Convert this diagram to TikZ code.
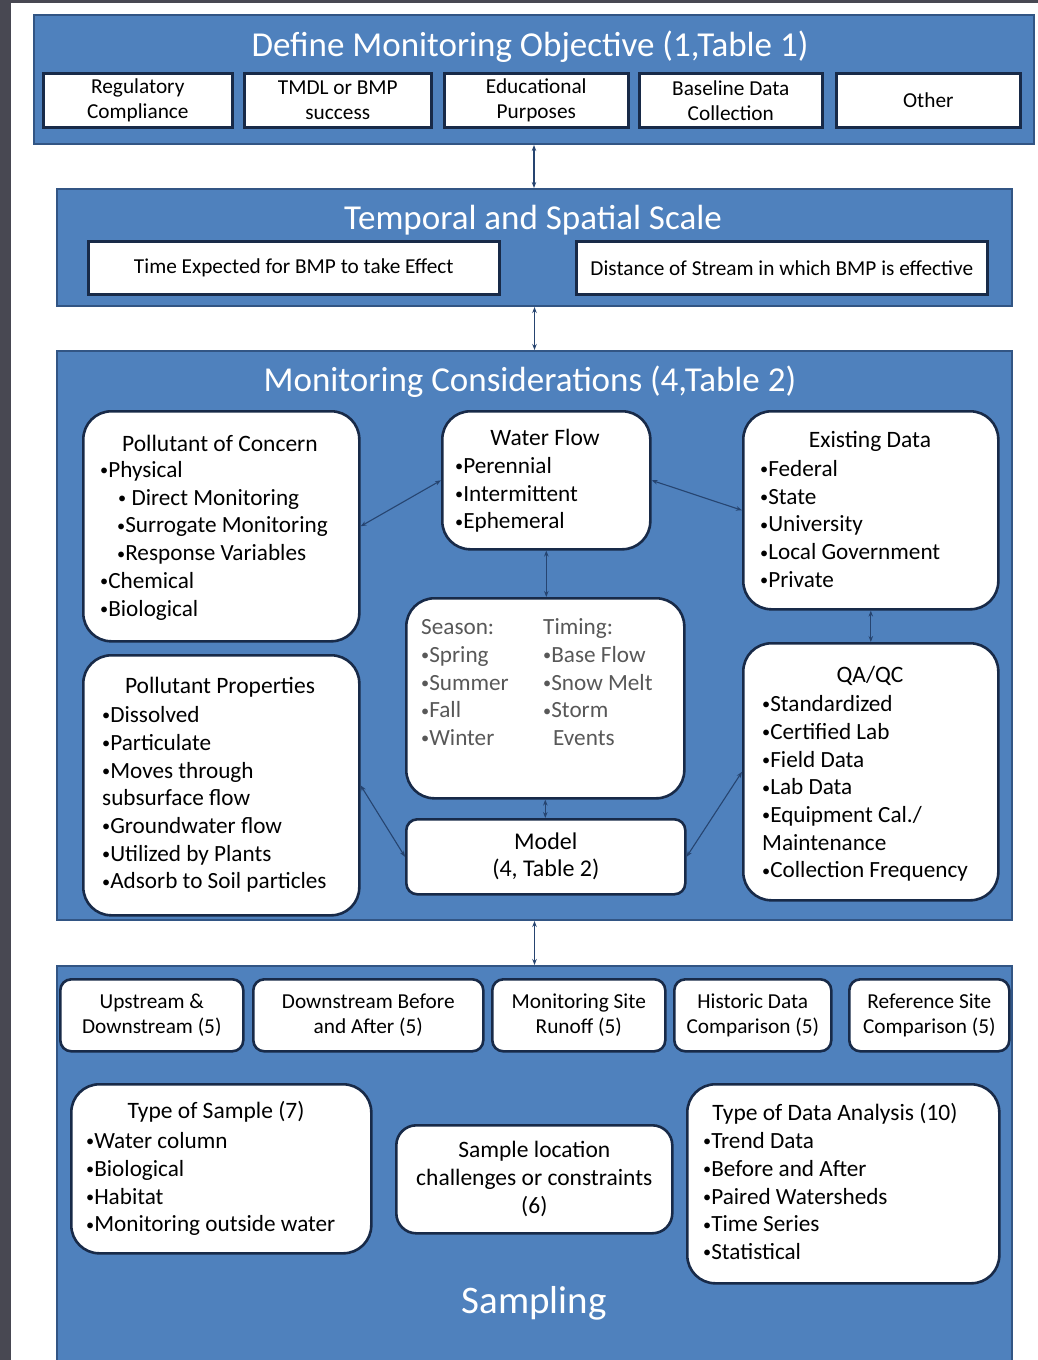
\documentclass[tikz,border=0pt]{standalone}
\usepackage{fontspec}
\usepackage{graphicx}
\setmainfont{Carlito}
\usetikzlibrary{arrows.meta}
\definecolor{bluefill}{RGB}{79,129,189}
\definecolor{blueedge}{RGB}{50,85,132}
\definecolor{navy}{RGB}{24,42,72}
\definecolor{arrowc}{RGB}{38,68,112}
\definecolor{stripc}{RGB}{72,72,82}
\definecolor{graytext}{RGB}{88,88,88}
\newcommand{\mybul}{\raisebox{0.15ex}{\scalebox{0.7}{•}}}
\begin{document}
\begin{tikzpicture}[x=1pt,y=-1pt,
  panel/.style={draw=blueedge, line width=2pt, fill=bluefill, anchor=north west, inner sep=0pt},
  sqbox/.style={draw=navy, line width=2.6pt, fill=white, anchor=north west, inner sep=0pt, align=center, font=\fontsize{21.3}{25}\selectfont},
  rbox/.style={sqbox, rounded corners=28pt},
  sbox/.style={sqbox, rounded corners=11pt},
  ptitle/.style={text=white, inner sep=0pt, font=\fontsize{35}{40}\selectfont},
  hd/.style={inner sep=0pt, font=\fontsize{23.5}{28}\selectfont},
  lst/.style={inner sep=0pt, anchor=north west, align=left, font=\fontsize{23.2}{27.7}\selectfont},
  glst/.style={lst, text=graytext},
  conn/.style={draw=arrowc, line width=1.1pt, {Stealth[length=6pt,width=4.5pt]}-{Stealth[length=6pt,width=4.5pt]}}
]
\useasboundingbox (0,0) rectangle (1038,1360);
\fill[white] (0,0) rectangle (1038,1360);
\fill[stripc] (0,0) rectangle (11,1360);
\fill[stripc] (0,0) rectangle (1038,3);

% ---------- Panel 1 ----------
\node[panel, minimum width=1000pt, minimum height=129pt] (b1) at (33,14) {};
\node[ptitle] (t1) at (530,47) {Define Monitoring Objective (1,Table 1)};
\node[sqbox, minimum width=189pt, minimum height=54pt] (o1) at (42,72) {Regulatory\\Compliance};
\node[sqbox, minimum width=187pt, minimum height=54pt] (o2) at (243,72) {TMDL or BMP\\success};
\node[sqbox, minimum width=184pt, minimum height=54pt] (o3) at (443,72) {Educational\\Purposes};
\node[sqbox, minimum width=183pt, minimum height=54pt] (o4) at (638,72) {Baseline Data\\Collection};
\node[sqbox, minimum width=184pt, minimum height=54pt] (o5) at (835,72) {Other};

% ---------- Panel 2 ----------
\node[panel, minimum width=955pt, minimum height=117pt] (b2) at (56,188) {};
\node[ptitle] (t2) at (533,220) {Temporal and Spatial Scale};
\node[sqbox, minimum width=411pt, minimum height=53pt] (s1) at (87,240) {Time Expected for BMP to take Effect};
\node[sqbox, minimum width=411pt, minimum height=53pt] (s2) at (575,240) {Distance of Stream in which BMP is effective};

% ---------- Panel 3 ----------
\node[panel, minimum width=955pt, minimum height=569pt] (b3) at (56,350) {};
\node[ptitle] (t3) at (530,382) {Monitoring Considerations (4,Table 2)};

\node[rbox, minimum width=276pt, minimum height=230pt] (poc) at (82,410) {};
\node[hd] (poct) at (220,443) {Pollutant of Concern};
\node[lst] (pocl) at (100,458) {\strut\mybul Physical\\\hspace{18pt}\mybul{} Direct Monitoring\\\hspace{17pt}\mybul Surrogate Monitoring\\\hspace{17pt}\mybul Response Variables\\\mybul Chemical\\\mybul Biological};

\node[rbox, minimum width=208pt, minimum height=138pt] (wf) at (441,410) {};
\node[hd] (wft) at (545,437) {Water Flow};
\node[lst] (wfl) at (455,454) {\strut\mybul Perennial\\\mybul Intermittent\\\mybul Ephemeral};

\node[rbox, minimum width=255pt, minimum height=198pt] (ed) at (742,410) {};
\node[hd] (edt) at (870,441) {Existing Data};
\node[lst] (edl) at (760,457) {\strut\mybul Federal\\\mybul State\\\mybul University\\\mybul Local Government\\\mybul Private};

\node[rbox, minimum width=278pt, minimum height=200pt] (sea) at (405,597) {};
\node[glst] (seal) at (421,615) {\strut Season:\\\mybul Spring\\\mybul Summer\\\mybul Fall\\\mybul Winter};
\node[glst] (timl) at (543,615) {\strut Timing:\\\mybul Base Flow\\\mybul Snow Melt\\\mybul Storm\\\hspace{10pt}Events};

\node[rbox, minimum width=276pt, minimum height=260pt] (pp) at (82,654) {};
\node[hd] (ppt) at (220,687) {Pollutant Properties};
\node[lst] (ppl) at (102,703) {\strut\mybul Dissolved\\\mybul Particulate\\\mybul Moves through\\subsurface flow\\\mybul Groundwater flow\\\mybul Utilized by Plants\\\mybul Adsorb to Soil particles};

\node[sbox, minimum width=279pt, minimum height=75pt, font=\fontsize{24}{27}\selectfont] (mod) at (405,818) {Model\\(4, Table 2)};

\node[rbox, minimum width=255pt, minimum height=257pt] (qa) at (742,642) {};
\node[hd] (qat) at (870,676) {QA/QC};
\node[lst] (qal) at (762,692) {\strut\mybul Standardized\\\mybul Certified Lab\\\mybul Field Data\\\mybul Lab Data\\\mybul Equipment Cal./\\Maintenance\\\mybul Collection Frequency};

% ---------- Panel 4 ----------
\node[panel, minimum width=955pt, minimum height=400pt] (b4) at (56,965) {};
\node[ptitle, font=\fontsize{39}{44}\selectfont] (t4) at (534,1303) {Sampling};

\node[sbox, minimum width=183pt, minimum height=72pt] (u1) at (59,978) {Upstream \&\\Downstream (5)};
\node[sbox, minimum width=230pt, minimum height=72pt] (u2) at (252,978) {Downstream Before\\and After (5)};
\node[sbox, minimum width=173pt, minimum height=72pt] (u3) at (491,978) {Monitoring Site\\Runoff (5)};
\node[sbox, minimum width=157pt, minimum height=72pt] (u4) at (673,978) {Historic Data\\Comparison (5)};
\node[sbox, minimum width=160pt, minimum height=72pt] (u5) at (848,978) {Reference Site\\Comparison (5)};

\node[rbox, minimum width=300pt, minimum height=169pt] (tos) at (70,1083) {};
\node[hd] (tost) at (216,1112) {Type of Sample (7)};
\node[lst] (tosl) at (86,1129) {\strut\mybul Water column\\\mybul Biological\\\mybul Habitat\\\mybul Monitoring outside water};

\node[rbox, rounded corners=20pt, minimum width=276pt, minimum height=108pt, font=\fontsize{23.5}{28}\selectfont] (sl) at (395,1124) {Sample location\\challenges or constraints\\(6)};

\node[rbox, minimum width=312pt, minimum height=199pt] (tda) at (686,1083) {};
\node[hd] (tdat) at (835,1114) {Type of Data Analysis (10)};
\node[lst] (tdal) at (703,1129) {\strut\mybul Trend Data\\\mybul Before and After\\\mybul Paired Watersheds\\\mybul Time Series\\\mybul Statistical};

% ---------- Connectors ----------
\draw[conn] (b1.south) -- (b1.south |- b2.north);
\draw[conn] (b2.south) -- (b2.south |- b3.north);
\draw[conn] (b3.south) -- (b3.south |- b4.north);
\draw[conn] (poc.east) -- (wf.west);
\draw[conn] (wf.east) -- (ed.west);
\draw[conn] (wf.south) -- (wf.south |- sea.north);
\draw[conn] (ed.south) -- (ed.south |- qa.north);
\draw[conn] (sea.south) -- (sea.south |- mod.north);
\draw[conn] (pp.east) -- (mod.west);
\draw[conn] (mod.east) -- (qa.west);
\end{tikzpicture}
\end{document}
